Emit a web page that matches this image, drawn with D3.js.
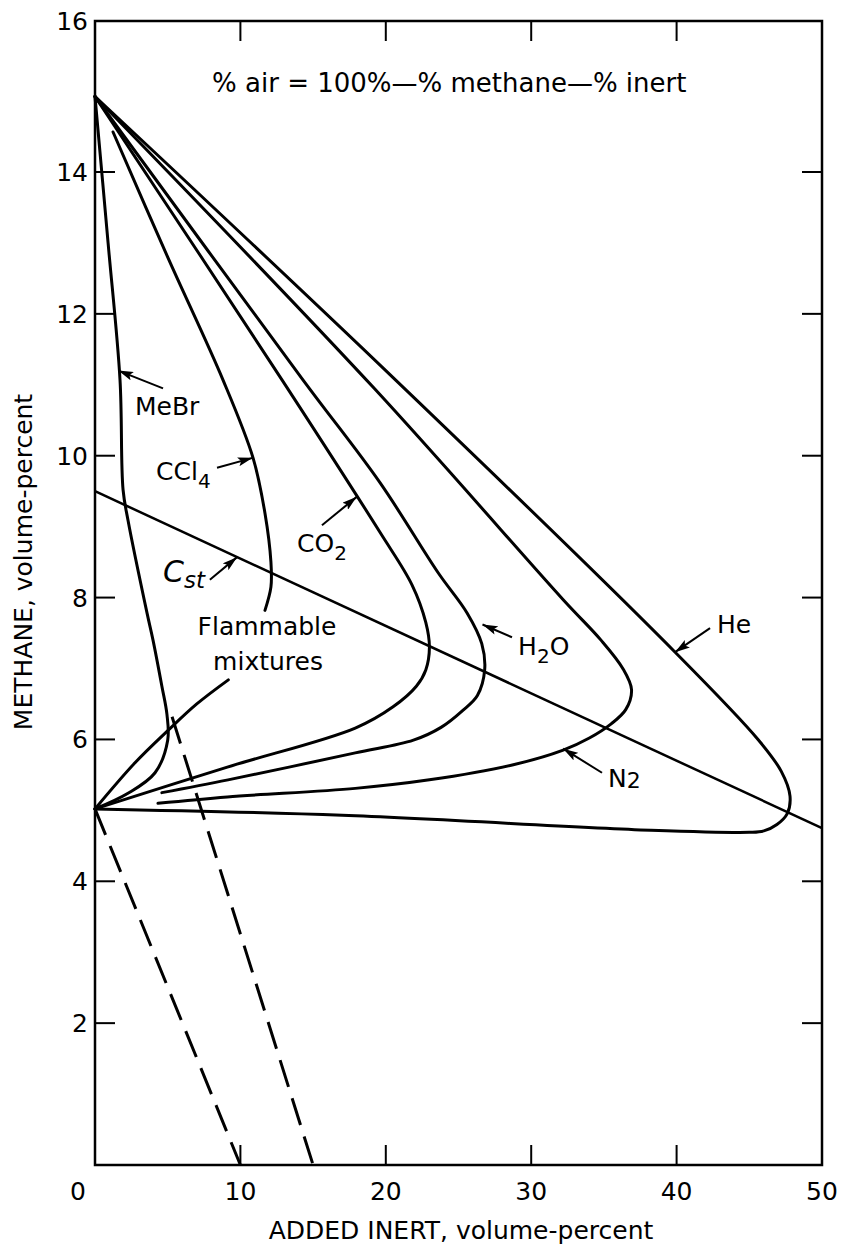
<!DOCTYPE html>
<html><head><meta charset="utf-8">
<script src="https://cdn.jsdelivr.net/npm/d3@7"></script>
<style>
html,body{margin:0;padding:0;background:#fff;}
svg{display:block;}
text{font-family:"DejaVu Sans",sans-serif;fill:#000;}
</style></head>
<body>
<svg id="chart" width="841" height="1247"></svg>
<script>
// ---- data (inert %, methane %) ----
const xTicks = [0, 10, 20, 30, 40, 50];
const yTicks = [2, 4, 6, 8, 10, 12, 14, 16];
const innerXTicks = [10, 20, 30, 40];
const innerYTicks = [2, 4, 6, 8, 10, 12, 14];

const He = [[0,15],[20,11.2],[39.9,7.23],[45.6,6.0],[47.2,5.55],[47.8,5.2],[47.6,4.95],[46.9,4.8],[46.0,4.71],[45.0,4.69],[38.2,4.72],[17,4.93],[0,5.02]];
const N2 = [[0,15],[19.2,10.95],[32.2,7.97],[34.8,7.4],[36.3,7.0],[36.9,6.7],[36.5,6.42],[35.5,6.22],[34.0,6.02],[32.2,5.85],[28.7,5.64],[23.0,5.43],[17.9,5.31],[9.1,5.19],[4.33,5.10]];
const H2O = [[0,15],[14.3,11.07],[19.6,9.62],[23.6,8.35],[25.6,7.78],[26.6,7.35],[26.8,6.98],[26.3,6.62],[25.3,6.41],[23.8,6.17],[21.9,5.99],[17.9,5.81],[9.15,5.43],[4.6,5.25]];
const CO2 = [[0,15],[12.86,11.07],[19.6,8.92],[21.8,8.18],[22.75,7.65],[23.0,7.3],[22.75,6.98],[22.1,6.75],[20.5,6.46],[17.9,6.16],[9.1,5.61],[0,5.02]];
const CCl4Upper = [[1.24,14.53],[5,12.8],[8.8,11.07],[10.87,9.97],[11.69,9.19],[12.1,8.5],[12.1,8.15],[11.69,7.82]];
const CCl4Lower = [[9.17,6.84],[7,6.5],[5.04,6.13],[2.75,5.67],[0,5.02]];
const MeBr = [[0,15],[0.9,13],[1.72,11.07],[1.93,9.52],[2.27,9.09],[3.58,7.78],[3.99,7.40],[4.6,6.75],[4.95,6.35],[5.0,5.99],[4.13,5.53],[2.27,5.24],[0,5.02]];
const Cst = [[0,9.5],[50,4.75]];
const dash1 = [[0,5.02],[10,0]];
const dash2 = [[5.3,6.32],[15,0]];

const labelText = ["MeBr","CCl","CO","H","N","He","Flammable","mixtures"];

// ---- scales ----
const svg = d3.select("#chart");
const x = d3.scaleLinear().domain([0, 50]).range([95, 822]);
const y = d3.scaleLinear().domain([0, 14, 16]).range([1165, 172, 21]);

const line = d3.line().x(d => x(d[0])).y(d => y(d[1])).curve(d3.curveCatmullRom.alpha(0.5));
const straight = d3.line().x(d => x(d[0])).y(d => y(d[1]));

// marker
svg.append("defs").append("marker")
  .attr("id","arr").attr("viewBox","0 0 15 9").attr("refX",15).attr("refY",4.5)
  .attr("markerWidth",15).attr("markerHeight",9).attr("markerUnits","userSpaceOnUse")
  .attr("orient","auto")
  .append("path").attr("d","M0,0 L15,4.5 L0,9 L3,4.5 Z").attr("fill","#000");

// frame
const g = svg.append("g");
g.append("rect").attr("x", x(0)).attr("y", y(16)).attr("width", x(50)-x(0)).attr("height", y(0)-y(16))
  .attr("fill","none").attr("stroke","#000").attr("stroke-width",2.5);

// inward ticks
const tl = 20;
innerXTicks.forEach(v => {
  g.append("line").attr("x1",x(v)).attr("x2",x(v)).attr("y1",y(0)).attr("y2",y(0)-tl).attr("stroke","#000").attr("stroke-width",2);
  g.append("line").attr("x1",x(v)).attr("x2",x(v)).attr("y1",y(16)).attr("y2",y(16)+tl).attr("stroke","#000").attr("stroke-width",2);
});
innerYTicks.forEach(v => {
  g.append("line").attr("x1",x(0)).attr("x2",x(0)+tl).attr("y1",y(v)).attr("y2",y(v)).attr("stroke","#000").attr("stroke-width",2);
  g.append("line").attr("x1",x(50)).attr("x2",x(50)-tl).attr("y1",y(v)).attr("y2",y(v)).attr("stroke","#000").attr("stroke-width",2);
});

// tick labels
xTicks.forEach(v => {
  g.append("text").attr("x", v === 0 ? x(0) - 17 : x(v)).attr("y", 1200)
    .attr("text-anchor","middle").attr("font-size",25).text(v);
});
yTicks.forEach(v => {
  g.append("text").attr("x", 88).attr("y", y(v)).attr("dy","0.36em")
    .attr("text-anchor","end").attr("font-size",25).text(v);
});

// axis titles
g.append("text").attr("x", 461).attr("y", 1239).attr("text-anchor","middle").attr("font-size",25)
  .text("ADDED INERT, volume-percent");
g.append("text").attr("transform","translate(32,562) rotate(-90)").attr("text-anchor","middle").attr("font-size",25)
  .text("METHANE, volume-percent");

// curves
const curves = [He, N2, H2O, CO2, CCl4Upper, CCl4Lower, MeBr];
curves.forEach(c => {
  g.append("path").attr("d", line(c)).attr("fill","none").attr("stroke","#000").attr("stroke-width",3)
    .attr("stroke-linejoin","round").attr("stroke-linecap","round");
});
g.append("path").attr("d", straight(Cst)).attr("fill","none").attr("stroke","#000").attr("stroke-width",2.5);
[dash1, dash2].forEach(c => {
  g.append("path").attr("d", straight(c)).attr("fill","none").attr("stroke","#000").attr("stroke-width",3)
    .attr("stroke-dasharray","28,12");
});

// leaders with arrows: [from, to] in data coords
const leaders = [
  [[4.68,10.95],[1.6,11.2]],
  [[8.39,9.83],[10.85,9.97]],
  [[15.61,9.02],[18.0,9.42]],
  [[7.9,8.25],[9.77,8.57]],
  [[28.68,7.44],[26.65,7.62]],
  [[34.87,5.53],[32.2,5.87]],
  [[42.3,7.57],[39.89,7.23]]
];
leaders.forEach(l => {
  g.append("line").attr("x1",x(l[0][0])).attr("y1",y(l[0][1])).attr("x2",x(l[1][0])).attr("y2",y(l[1][1]))
    .attr("stroke","#000").attr("stroke-width",2).attr("marker-end","url(#arr)");
});

// labels
function lab(xv, yv, txt, sub, size){
  const t = g.append("text").attr("x", x(xv)).attr("y", y(yv)).attr("font-size", size || 25);
  t.append("tspan").text(txt);
  if (sub) t.append("tspan").attr("font-size",20).attr("dy",8).text(sub);
  return t;
}
lab(2.75, 10.57, labelText[0]);
lab(4.2, 9.66, labelText[1], "4");
lab(13.9, 8.64, labelText[2], "2");
lab(29.1, 7.19, labelText[3], "2").append("tspan").attr("dy",-8).text("O");
const n2 = g.append("text").attr("x", x(35.28)).attr("y", y(5.33)).attr("font-size",25);
n2.append("tspan").text(labelText[4]);
n2.append("tspan").attr("font-size",22).attr("dy",1).text("2");
lab(42.78, 7.5, labelText[5]);
g.append("text").attr("x", x(11.83)).attr("y", y(7.47)).attr("text-anchor","middle").attr("font-size",25).text(labelText[6]);
g.append("text").attr("x", x(11.9)).attr("y", y(6.98)).attr("text-anchor","middle").attr("font-size",25).text(labelText[7]);
// C_st
const cst = g.append("text").attr("x", x(4.68)).attr("y", y(8.22)).attr("font-style","italic").attr("font-size",30);
cst.append("tspan").text("C");
cst.append("tspan").attr("font-size",23).attr("dy",6).text("st");

// top note
g.append("text").attr("x", x(8.05)).attr("y", 92).attr("font-size",26)
  .text("% air = 100%\u2014% methane\u2014% inert");
</script>
</body></html>
